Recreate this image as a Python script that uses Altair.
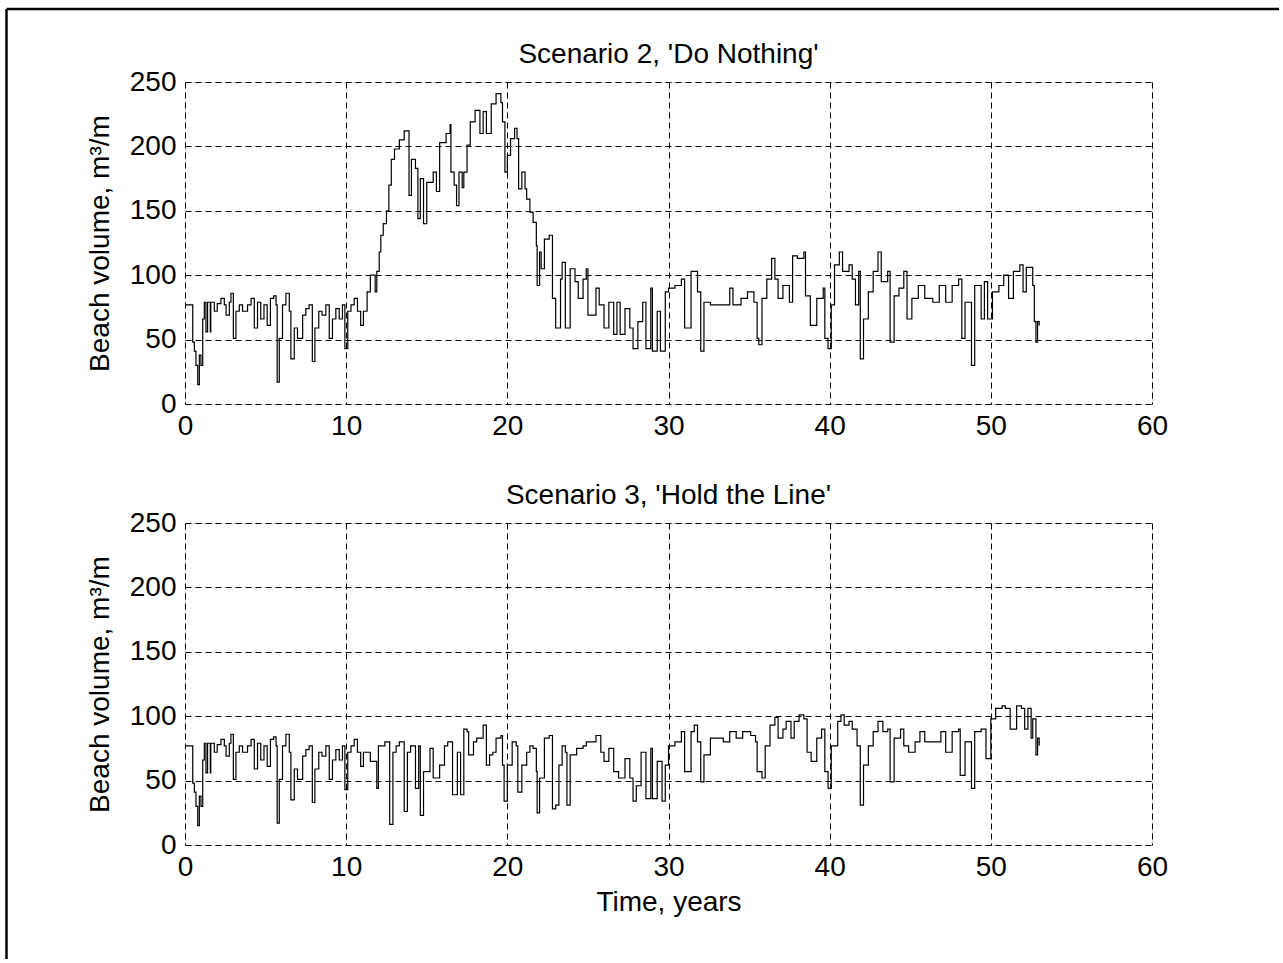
import altair as alt
import pandas as pd

# ---- data (time in years, beach volume in m3/m) ----
t_shared = [0.0, 0.48, 0.58, 0.68, 0.79, 0.89, 0.99, 1.1, 1.2, 1.3, 1.4, 1.57, 1.6, 1.82, 2.0,
            2.23, 2.44, 2.55, 2.75, 2.85, 3.0, 3.16, 3.37, 3.57, 3.88, 4.1, 4.3, 4.5, 4.7, 4.9,
            5.1, 5.3, 5.5, 5.65, 5.72, 5.85, 6.05, 6.26, 6.47, 6.57, 6.78, 6.98, 7.3, 7.5, 7.7,
            7.9, 8.06, 8.3, 8.5, 8.74, 8.95, 9.15, 9.36, 9.57, 9.77, 9.92, 10.1, 10.3, 10.5,
            10.7, 10.9, 11.07]
v_shared = [77, 48, 41, 30, 15, 38, 30, 66, 79, 56, 79, 56, 79, 72, 78,
            82, 77, 69, 79, 86, 51, 72, 77, 72, 77, 82, 59, 79, 66, 77,
            61, 82, 84, 77, 17, 51, 77, 86, 72, 35, 59, 51, 69, 74, 77,
            33, 59, 72, 69, 77, 51, 66, 74, 66, 77, 43, 72, 77, 82,
            72, 61, 72]

t2_rest = [11.3, 11.5, 11.8, 11.9, 12.05, 12.15, 12.3, 12.5, 12.65, 12.8, 13.0, 13.3, 13.6, 13.9,
           14.05, 14.3, 14.45, 14.6, 14.8, 15.0, 15.4, 15.6, 15.8, 16.2, 16.45, 16.5, 16.7, 16.85,
           17.0, 17.2, 17.3, 17.5, 17.7, 18.0, 18.3, 18.5, 18.7, 19.0, 19.3, 19.6, 19.7, 19.85,
           20.0, 20.2, 20.45, 20.6, 20.7, 20.9, 21.1, 21.2, 21.4, 21.6, 21.8, 21.85, 22.0, 22.1,
           22.3, 22.6, 22.8, 23.0, 23.3, 23.4, 23.6, 23.9, 24.2, 24.4, 24.7, 24.9, 25.0, 25.5,
           25.7, 26.0, 26.3, 26.6, 26.8, 27.0, 27.3, 27.6, 27.8, 28.1, 28.4, 28.6, 28.9, 29.0,
           29.3, 29.5, 29.8, 30.0, 30.4, 30.8, 31.0, 31.4, 31.8, 32.0, 32.2, 32.6, 33.2, 33.8,
           34.0, 34.5, 34.9, 35.3, 35.5, 35.6, 35.8, 36.1, 36.4, 36.6, 36.8, 37.1, 37.5, 37.7,
           38.0, 38.4, 38.5, 38.8, 39.2, 39.6, 39.7, 39.9, 40.1, 40.3, 40.6, 40.8, 41.2, 41.4,
           41.6, 41.8, 41.9, 42.1, 42.4, 42.7, 43.0, 43.2, 43.6, 43.75, 44.0, 44.3, 44.6, 44.8,
           45.1, 45.5, 45.9, 46.4, 46.8, 47.2, 47.6, 48.0, 48.2, 48.4, 48.8, 49.0, 49.4, 49.6,
           49.8, 50.1, 50.5, 50.8, 51.1, 51.4, 51.8, 52.0, 52.2, 52.4, 52.6, 52.7, 52.8, 52.9, 53.0]
v2_rest = [87, 100, 87, 103, 118, 131, 140, 150, 170, 190, 198, 205, 212, 162,
           190, 183, 144, 175, 140, 172, 180, 165, 203, 210, 217, 180, 170, 154,
           180, 168, 180, 201, 219, 228, 210, 227, 210, 233, 241, 234, 219, 180,
           193, 206, 214, 206, 167, 180, 167, 159, 149, 141, 123, 92, 118, 105,
           128, 131, 82, 59, 97, 110, 59, 105, 95, 82, 97, 105, 69, 90,
           77, 59, 79, 54, 79, 54, 74, 59, 43, 64, 79, 43, 90, 41,
           72, 41, 87, 90, 92, 97, 59, 103, 87, 41, 79, 77, 77, 90,
           77, 82, 87, 79, 51, 46, 82, 97, 113, 97, 82, 92, 79, 115,
           113, 118, 84, 61, 82, 90, 51, 43, 77, 108, 118, 103, 108, 97,
           77, 103, 35, 66, 87, 103, 118, 95, 103, 48, 84, 90, 103, 66,
           82, 92, 82, 79, 92, 79, 92, 97, 51, 79, 30, 92, 66, 95,
           66, 87, 92, 100, 82, 103, 108, 87, 106, 106, 92, 64, 48, 64, 61]

t3_rest = [11.3, 11.5, 11.9, 12.0, 12.4, 12.7, 12.9, 13.1, 13.3, 13.6, 13.8, 14.0, 14.3, 14.5,
           14.6, 14.8, 15.2, 15.4, 15.8, 16.1, 16.3, 16.6, 16.9, 17.1, 17.3, 17.5, 17.6, 17.9,
           18.1, 18.5, 18.7, 18.9, 19.1, 19.3, 19.6, 19.7, 19.8, 20.0, 20.3, 20.55, 20.65, 20.9,
           21.2, 21.4, 21.6, 21.8, 21.85, 22.0, 22.3, 22.6, 22.8, 23.0, 23.2, 23.4, 23.6, 23.7,
           23.9, 24.2, 24.3, 24.7, 24.9, 25.5, 25.8, 26.0, 26.3, 26.6, 26.9, 27.3, 27.6, 27.8,
           28.0, 28.3, 28.6, 28.9, 29.0, 29.3, 29.6, 29.8, 30.0, 30.4, 30.8, 31.0, 31.4, 31.6,
           31.8, 32.0, 32.2, 32.6, 33.0, 33.4, 33.8, 34.2, 34.6, 35.1, 35.4, 35.5, 35.8, 36.0,
           36.3, 36.6, 36.8, 37.1, 37.3, 37.6, 37.8, 38.1, 38.4, 38.6, 38.85, 39.2, 39.5, 39.7,
           39.9, 40.1, 40.5, 40.7, 40.9, 41.2, 41.4, 41.7, 41.9, 42.1, 42.4, 42.7, 43.0, 43.3,
           43.6, 43.75, 44.0, 44.4, 44.6, 44.9, 45.3, 45.6, 45.9, 46.4, 46.9, 47.2, 47.6, 48.0,
           48.1, 48.4, 48.8, 49.0, 49.4, 49.7, 50.0, 50.3, 50.7, 50.9, 51.2, 51.6, 51.9, 52.1,
           52.3, 52.5, 52.6, 52.8, 52.9, 53.0]
v3_rest = [72, 65, 44, 77, 80, 16, 72, 77, 80, 26, 72, 77, 44, 77,
           23, 57, 75, 52, 62, 77, 80, 39, 72, 39, 90, 88, 70, 80,
           83, 93, 62, 70, 72, 83, 85, 62, 34, 62, 80, 77, 41, 62,
           72, 77, 75, 57, 25, 52, 83, 85, 28, 31, 62, 77, 72, 31,
           70, 70, 75, 77, 80, 85, 72, 65, 75, 57, 52, 67, 52, 34,
           46, 72, 36, 75, 36, 65, 34, 62, 77, 80, 88, 57, 88, 93,
           80, 49, 70, 83, 83, 80, 88, 83, 88, 85, 80, 57, 52, 77,
           93, 99, 83, 90, 96, 83, 96, 101, 98, 72, 65, 83, 90, 57,
           44, 77, 96, 101, 93, 96, 90, 77, 31, 62, 77, 88, 96, 88,
           90, 49, 83, 90, 77, 72, 80, 88, 80, 80, 88, 72, 88, 90,
           54, 80, 44, 88, 90, 67, 98, 106, 108, 106, 90, 108, 106, 90,
           106, 83, 98, 70, 83, 77]

x_ticks = [0, 10, 20, 30, 40, 50, 60]
y_ticks = [0, 50, 100, 150, 200, 250]
titles = ["Scenario 2, 'Do Nothing'", "Scenario 3, 'Hold the Line'"]

df2 = pd.DataFrame({"t": t_shared + t2_rest, "v": v_shared + v2_rest})
df3 = pd.DataFrame({"t": t_shared + t3_rest, "v": v_shared + v3_rest})

FONT = "Liberation Sans"
W, H = 967, 322
one = pd.DataFrame({"k": [0]})


def panel(df, title, xtitle):
    xaxis = alt.Axis(values=x_ticks, grid=True, gridDash=[6, 4], gridColor="black",
                     gridOpacity=1, gridWidth=1, ticks=False, domain=False,
                     labelFont=FONT, labelFontSize=28, labelColor="black", labelPadding=8,
                     labelFlush=False, labelOverlap=False, format="d",
                     title=xtitle, titleFont=FONT, titleFontSize=28, titleFontWeight="normal",
                     titleColor="black", titlePadding=7)
    yaxis = alt.Axis(values=y_ticks, grid=True, gridDash=[6, 4], gridColor="black",
                     gridOpacity=1, gridWidth=1, ticks=False, domain=False,
                     labelFont=FONT, labelFontSize=28, labelColor="black", labelPadding=9,
                     labelFlush=False, labelOverlap=False, format="d",
                     title="Beach volume, m³/m", titleFont=FONT, titleFontSize=28,
                     titleFontWeight="normal", titleColor="black", titlePadding=15)
    line = alt.Chart(df).mark_line(interpolate="step-after", color="black", strokeWidth=1.2).encode(
        x=alt.X("t:Q", scale=alt.Scale(domain=[0, 60], nice=False, zero=False), axis=xaxis),
        y=alt.Y("v:Q", scale=alt.Scale(domain=[0, 250], nice=False), axis=yaxis),
    )
    ttl = alt.Chart(one).mark_text(font=FONT, fontSize=28, color="black", align="center",
                                   baseline="alphabetic").encode(
        x=alt.value(W / 2), y=alt.value(-19), text=alt.value(title))
    return [line, ttl]


top_layers = panel(df2, titles[0], "")
bot_layers = panel(df3, titles[1], "Time, years")

vborder = alt.Chart(one).mark_rule(color="black", strokeWidth=2.5).encode(
    x=alt.value(-178.5), y=alt.value(-514), y2=alt.value(436))
hborder = alt.Chart(one).mark_rule(color="black", strokeWidth=2.5).encode(
    x=alt.value(-178.5), x2=alt.value(1094), y=alt.value(-514))

top = alt.layer(*top_layers).properties(width=W, height=H)
bottom = alt.layer(*bot_layers, vborder, hborder).properties(width=W, height=H)

chart = alt.vconcat(top, bottom, spacing=119, bounds="flush").properties(
    padding={"left": 4, "top": 7, "right": 0, "bottom": 0}
).configure_view(stroke="black", strokeWidth=1.5).configure(background="white")

chart.save("out.html", embed_options={"renderer": "svg", "actions": False})
